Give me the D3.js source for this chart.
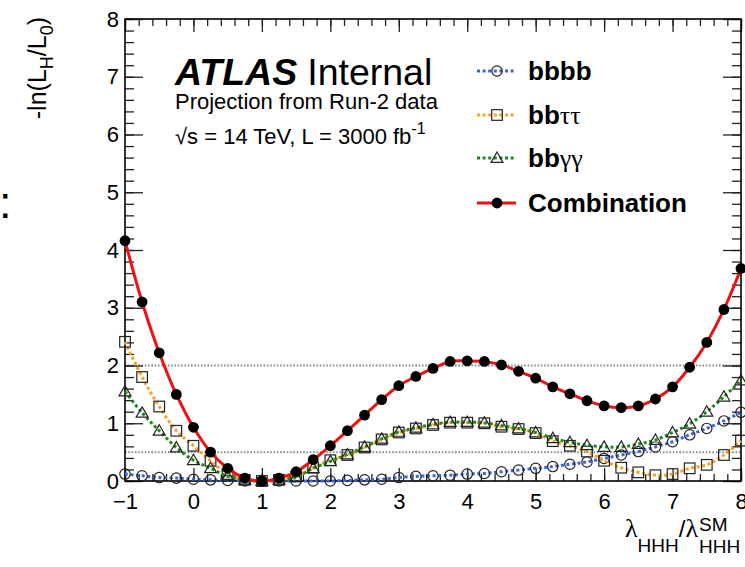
<!DOCTYPE html>
<html><head><meta charset="utf-8">
<script src="https://cdn.jsdelivr.net/npm/d3@7"></script>
<style>body{margin:0;background:#fff}svg{display:block}</style>
</head><body>
<svg id="c" width="745" height="567"></svg>
<script>
// ---- data ----
const lambdaRatio = [-1,-0.75,-0.5,-0.25,0,0.25,0.5,0.75,1,1.25,1.5,1.75,2,2.25,2.5,2.75,3,3.25,3.5,3.75,4,4.25,4.5,4.75,5,5.25,5.5,5.75,6,6.25,6.5,6.75,7,7.25,7.5,7.75,8];
const bbbb = [0.12,0.09,0.06,0.05,0.03,0.02,0.01,0.00,0.00,0.00,0.00,0.00,0.00,0.01,0.02,0.03,0.06,0.08,0.09,0.10,0.12,0.13,0.16,0.19,0.22,0.25,0.29,0.33,0.39,0.45,0.51,0.59,0.68,0.80,0.91,1.04,1.19];
const bbtautau = [2.41,1.80,1.29,0.87,0.61,0.35,0.12,0.02,0.00,0.02,0.08,0.23,0.36,0.45,0.58,0.72,0.84,0.91,0.97,1.01,1.01,1.00,0.94,0.90,0.83,0.69,0.61,0.51,0.35,0.23,0.15,0.10,0.12,0.22,0.28,0.45,0.70];
const bbyy = [1.55,1.18,0.87,0.58,0.36,0.22,0.08,0.02,0.00,0.02,0.07,0.22,0.34,0.46,0.59,0.73,0.85,0.92,0.98,1.02,1.02,1.01,0.96,0.91,0.84,0.74,0.67,0.62,0.59,0.59,0.64,0.71,0.84,0.99,1.20,1.46,1.74];
const combination = [4.16,3.10,2.22,1.50,0.93,0.50,0.22,0.05,0.00,0.05,0.16,0.37,0.61,0.87,1.14,1.41,1.65,1.81,1.95,2.07,2.08,2.07,2.01,1.90,1.78,1.63,1.51,1.39,1.30,1.27,1.30,1.42,1.63,1.97,2.40,2.97,3.68];
const xMajorTicks = [-1,0,1,2,3,4,5,6,7,8];
const yMajorTicks = [0,1,2,3,4,5,6,7,8];
const refLevels = [0.5, 2];
const seriesNames = ["bbbb","bbττ","bbγγ","Combination"];

// ---- layout ----
const svg = d3.select("#c");
const sans = "'Liberation Sans', Arial, Helvetica, sans-serif";
const serif = "'Liberation Serif', 'Times New Roman', serif";
const x = d3.scaleLinear().domain([-1,8]).range([125,741]);
const y = d3.scaleLinear().domain([0,8]).range([481,19]);

// reference dotted lines
svg.append("g").selectAll("line").data(refLevels).join("line")
  .attr("x1", x(-1)).attr("x2", x(8)).attr("y1", d=>y(d)).attr("y2", d=>y(d))
  .attr("stroke", "#8a8a8a").attr("stroke-width", 2).attr("stroke-dasharray", "1.6,1.7");

// axes
const minorX = d3.range(-1, 8.0001, 0.2).map(v=>+v.toFixed(2));
const minorY = d3.range(0, 8.0001, 0.2).map(v=>+v.toFixed(2));
function styleAxis(g){ g.select(".domain").remove(); g.selectAll("line").attr("stroke","#222").attr("stroke-width",1.3); }
svg.append("g").attr("transform",`translate(0,${y(0)})`)
  .call(d3.axisBottom(x).tickValues(minorX).tickSize(-7).tickFormat("")).call(styleAxis);
svg.append("g").attr("transform",`translate(0,${y(0)})`)
  .call(d3.axisBottom(x).tickValues(xMajorTicks).tickSize(-13).tickPadding(12).tickFormat(d3.format("d"))).call(styleAxis)
  .selectAll("text").attr("font-family", sans).attr("font-size", 22).attr("fill","#000");
svg.append("g").attr("transform",`translate(0,${y(8)})`)
  .call(d3.axisTop(x).tickValues(minorX).tickSize(-7).tickFormat("")).call(styleAxis);
svg.append("g").attr("transform",`translate(0,${y(8)})`)
  .call(d3.axisTop(x).tickValues(xMajorTicks).tickSize(-13).tickFormat("")).call(styleAxis);
svg.append("g").attr("transform",`translate(${x(-1)},0)`)
  .call(d3.axisLeft(y).tickValues(minorY).tickSize(-9).tickFormat("")).call(styleAxis);
svg.append("g").attr("transform",`translate(${x(-1)},0)`)
  .call(d3.axisLeft(y).tickValues(yMajorTicks).tickSize(-18).tickPadding(6).tickFormat(d3.format("d"))).call(styleAxis)
  .selectAll("text").attr("font-family", sans).attr("font-size", 22).attr("fill","#000");
svg.append("g").attr("transform",`translate(${x(8)},0)`)
  .call(d3.axisRight(y).tickValues(minorY).tickSize(-9).tickFormat("")).call(styleAxis);
svg.append("g").attr("transform",`translate(${x(8)},0)`)
  .call(d3.axisRight(y).tickValues(yMajorTicks).tickSize(-18).tickFormat("")).call(styleAxis);
// frame
svg.append("rect").attr("x", x(-1)).attr("y", y(8)).attr("width", x(8)-x(-1)).attr("height", y(0)-y(8))
  .attr("fill","none").attr("stroke","#000").attr("stroke-width",1.6);

// series
const series = [
  {name: seriesNames[0], vals: bbbb, color:"#3c64dc", dash:"3,2.6", width:3, marker:"circle"},
  {name: seriesNames[1], vals: bbtautau, color:"#f6a121", dash:"3,2.6", width:3, marker:"square"},
  {name: seriesNames[2], vals: bbyy, color:"#1b8a1b", dash:"3,2.6", width:3, marker:"triangle"},
  {name: seriesNames[3], vals: combination, color:"#ee1111", dash:null, width:3, marker:"dot"}
];
const line = d3.line().x(d=>x(d[0])).y(d=>y(d[1])).curve(d3.curveCatmullRom);
function drawMarker(g, type, cx, cy){
  if(type==="circle") g.append("circle").attr("cx",cx).attr("cy",cy).attr("r",5.2).attr("fill","none").attr("stroke","#222").attr("stroke-width",1.2);
  else if(type==="square") g.append("rect").attr("x",cx-5.3).attr("y",cy-5.3).attr("width",10.6).attr("height",10.6).attr("fill","none").attr("stroke","#222").attr("stroke-width",1.2);
  else if(type==="triangle") g.append("path").attr("d",d3.symbol(d3.symbolTriangle, 62)()).attr("transform",`translate(${cx},${cy+0.9})`).attr("fill","none").attr("stroke","#222").attr("stroke-width",1.2);
  else g.append("circle").attr("cx",cx).attr("cy",cy).attr("r",5.4).attr("fill","#000");
}
series.forEach(s=>{
  const pts = lambdaRatio.map((v,i)=>[v, s.vals[i]]);
  svg.append("path").attr("d", line(pts)).attr("fill","none").attr("stroke", s.color)
    .attr("stroke-width", s.width).attr("stroke-dasharray", s.dash);
  const g = svg.append("g");
  pts.forEach(p=>drawMarker(g, s.marker, x(p[0]), y(p[1])));
});

// legend
const legY = [71, 115, 158, 203];
series.forEach((s,i)=>{
  const g = svg.append("g");
  g.append("line").attr("x1",477).attr("x2",516).attr("y1",legY[i]).attr("y2",legY[i])
    .attr("stroke",s.color).attr("stroke-width",3).attr("stroke-dasharray",s.dash);
  drawMarker(g, s.marker, 497, legY[i]);
  const t = g.append("text").attr("x",528).attr("y",legY[i]+9).attr("font-family",sans).attr("font-size",26).attr("font-weight","bold").attr("fill","#000");
  if(i===1){ t.append("tspan").text("bb"); t.append("tspan").attr("font-family",serif).attr("font-weight","normal").text("ττ"); }
  else if(i===2){ t.append("tspan").text("bb"); t.append("tspan").attr("font-family",serif).attr("font-weight","normal").text("γγ"); }
  else t.text(s.name);
});

// ATLAS label
const a = svg.append("text").attr("x",175).attr("y",85).attr("font-family",sans).attr("font-size",37.5).attr("fill","#000");
a.append("tspan").attr("font-weight","bold").attr("font-style","italic").text("ATLAS");
a.append("tspan").attr("dx",10).text("Internal");
svg.append("text").attr("x",175).attr("y",109).attr("font-family",sans).attr("font-size",22).attr("fill","#000").text("Projection from Run-2 data");
const e = svg.append("text").attr("x",175).attr("y",144).attr("font-family",sans).attr("font-size",22).attr("fill","#000");
e.append("tspan").text("√s = 14 TeV, L = 3000 fb");
e.append("tspan").attr("dy",-10).attr("font-size",16).text("-1");

// y title
const yt = svg.append("text").attr("transform","translate(46,17) rotate(-90)").attr("text-anchor","end")
  .attr("font-family",sans).attr("font-size",25).attr("fill","#000");
yt.append("tspan").text("-ln(L");
yt.append("tspan").attr("dy",7).attr("font-size",18).text("H");
yt.append("tspan").attr("dy",-7).text("/L");
yt.append("tspan").attr("dy",7).attr("font-size",18).text("0");
yt.append("tspan").attr("dy",-7).text(")");

// x title
const xt = svg.append("text").attr("x",625).attr("y",537).attr("font-family",sans).attr("font-size",24).attr("fill","#000");
xt.append("tspan").attr("font-family",serif).attr("font-size",26).text("λ");
xt.append("tspan").attr("dy",15).attr("font-size",19).text("HHH");
xt.append("tspan").attr("dy",-15).text("/");
xt.append("tspan").attr("font-family",serif).attr("font-size",26).text("λ");
const xEnd = 625 + xt.node().getComputedTextLength();
svg.append("text").attr("x",xEnd+1).attr("y",531).attr("font-family",sans).attr("font-size",19).attr("fill","#000").text("SM");
svg.append("text").attr("x",xEnd+1).attr("y",553).attr("font-family",sans).attr("font-size",19).attr("fill","#000").text("HHH");

// stray colon at the left edge
svg.append("text").attr("x",-1).attr("y",218).attr("font-family",sans).attr("font-size",45).attr("fill","#000").text(":");
</script>
</body></html>
